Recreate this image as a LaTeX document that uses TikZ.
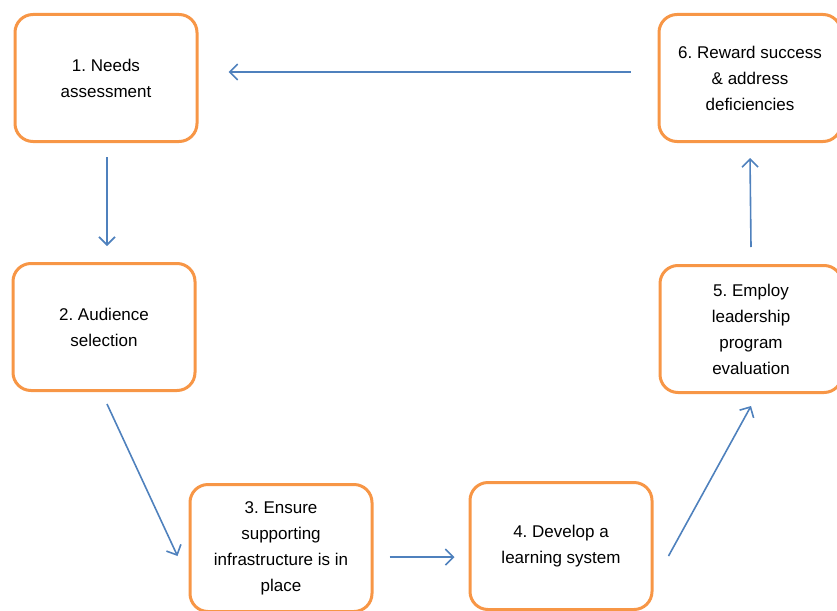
\documentclass[tikz,border=0pt]{standalone}
\usepackage{fontspec}
\setmainfont{Liberation Sans}
\usepackage{tikz}
\usetikzlibrary{positioning,arrows.meta}
\definecolor{boxline}{HTML}{F79646}
\definecolor{flowline}{HTML}{4F81BD}
\frenchspacing

\begin{document}
\begin{tikzpicture}[x=1pt,y=-1pt,
    stage/.style={draw=boxline,line width=3pt,rounded corners=18pt,
      minimum width=182pt,minimum height=127pt,align=center,
      font=\fontsize{17}{26}\selectfont},
    flow/.style={draw=flowline,line width=1.6pt,
      -{Straight Barb[length=8pt,width=16pt]}}]
  \useasboundingbox (0,0) rectangle (837,610);

  % the six stages
  \node[stage] (needs)    at (106,78)  {1. Needs\\assessment};
  \node[stage] (audience) at (104,327) {2. Audience\\selection};
  \node[stage] (infra)    at (281,548) {3. Ensure\\supporting\\infrastructure is in\\place};
  \node[stage] (learning) at (561,546) {4. Develop a\\learning system};
  \node[stage] (evaluate) at (751,329) {5. Employ\\leadership\\program\\evaluation};
  \node[stage] (reward)   at (750,78)  {6. Reward success\\\& address\\deficiencies};

  % connectors
  \draw[flow] ([xshift=1pt,yshift=-14pt]needs.south) -- ([xshift=3pt,yshift=16pt]audience.north);
  \draw[flow] ([xshift=3pt,yshift=-12pt]audience.south) -- ([xshift=-11pt,yshift=-8pt]infra.west);
  \draw[flow] ([xshift=16pt,yshift=-9pt]infra.east) -- ([xshift=-14pt,yshift=-11pt]learning.west);
  \draw[flow] ([xshift=15pt,yshift=-10pt]learning.east) -- ([yshift=-12pt]evaluate.south);
  \draw[flow] ([yshift=17pt]evaluate.north) -- ([yshift=-15pt]reward.south);
  \draw[flow] ([xshift=-27pt,yshift=6pt]reward.west) -- ([xshift=30pt,yshift=6pt]needs.east);
\end{tikzpicture}
\end{document}
